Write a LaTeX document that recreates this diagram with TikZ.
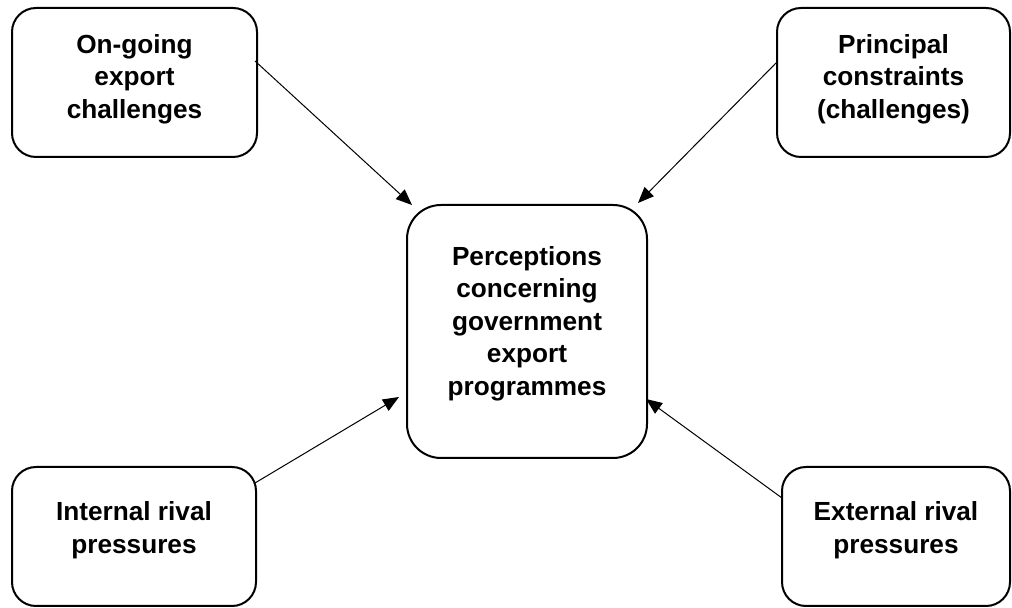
\documentclass[tikz,border=0pt]{standalone}
\usepackage{fontspec}
\setmainfont{Liberation Sans}
\usetikzlibrary{arrows.meta}

% centred lines of text; the optional space after the last line lifts the text a little
\newcommand{\boxlines}[2][0pt]{\begin{tabular}{@{}c@{}}#2\\[#1]\end{tabular}}

\begin{document}
\begin{tikzpicture}[x=0.5pt,y=-0.5pt,
  roundbox/.style={draw, line width=1pt, rounded corners=12pt, inner sep=0pt,
    outer sep=0pt, font=\fontsize{13.1pt}{16.25pt}\selectfont\bfseries},
  link/.style={line width=0.5pt, -{Triangle[length=8pt,width=6.5pt]}}]
\useasboundingbox (0,0) rectangle (1012,608);

\node[roundbox, minimum width=122.5pt, minimum height=74.5pt] (tl) at (134.5,82.5)
  {\boxlines[3pt]{On-going\\export\\challenges}};
\node[roundbox, minimum width=116.5pt, minimum height=74.5pt] (tr) at (893.5,82.5)
  {\boxlines[3pt]{Principal\\constraints\\(challenges)}};
\node[roundbox, rounded corners=17pt, minimum width=120pt, minimum height=126.5pt] (c) at (527,331.5)
  {\boxlines[7.5pt]{Perceptions\\concerning\\government\\export\\programmes}};
\node[roundbox, minimum width=122pt, minimum height=69.5pt] (bl) at (134,536.5)
  {\boxlines[6pt]{Internal rival\\pressures}};
\node[roundbox, minimum width=114pt, minimum height=69.5pt] (br) at (896,536.5)
  {\boxlines[6pt]{External rival\\pressures}};

\draw[link] ([xshift=-1pt,yshift=10.75pt]tl.east) -- ([xshift=2.5pt]c.north west);
\draw[link] ([yshift=10.25pt]tr.west) -- ([xshift=-4.5pt,yshift=1pt]c.north east);
\draw[link] ([xshift=-0.5pt,yshift=26.75pt]bl.east) -- ([xshift=-4pt,yshift=-32.75pt]c.west);
\draw[link] ([yshift=19.25pt]br.west) -- ([xshift=-0.5pt,yshift=-33.75pt]c.east);
\end{tikzpicture}
\end{document}
